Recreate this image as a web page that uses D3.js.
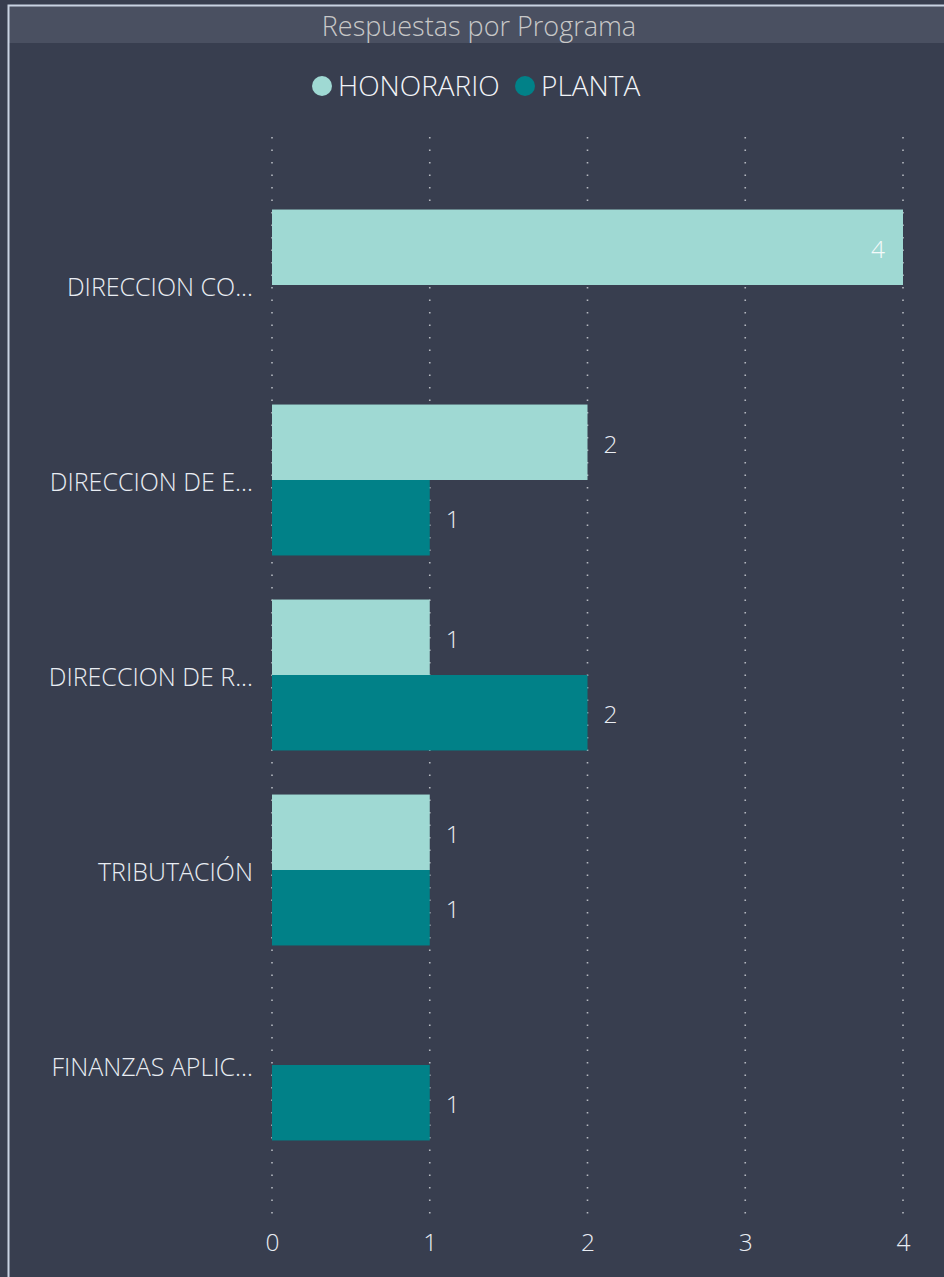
<!DOCTYPE html>
<html>
<head>
<meta charset="utf-8">
<script src="https://cdn.jsdelivr.net/npm/d3@7"></script>
<style>
  html, body { margin: 0; padding: 0; background: #383e4f; }
  svg { display: block; }
</style>
</head>
<body>
<script>
/* DATA */
var categories = ['DIRECCION CO...', 'DIRECCION DE E...', 'DIRECCION DE R...', 'TRIBUTACIÓN', 'FINANZAS APLIC...'];
var seriesNames = ['HONORARIO', 'PLANTA'];
var honorario = [4, 2, 1, 1, 0];
var planta = [0, 1, 2, 1, 1];
var xTicks = [0, 1, 2, 3, 4];

/* STYLE */
var width = 944;
var height = 1277;
var bgColor = '#383e4f';
var titleBand = '#4a5061';
var frameColor = '#c9d3e3';
var seriesColors = ['#9fd9d3', '#018188'];
var textColor = '#e9edf3';
var font = '"Segoe UI", "Open Sans", sans-serif';

var series = [honorario, planta];

var svg = d3.select('body').append('svg')
    .attr('width', width)
    .attr('height', height);

svg.append('rect')
    .attr('width', width).attr('height', height)
    .attr('fill', bgColor);

// title band + frame
svg.append('rect')
    .attr('x', 9).attr('y', 6)
    .attr('width', width).attr('height', 37)
    .attr('fill', titleBand);

svg.append('path')
    .attr('d', `M8.5,${height} V5.5 H${width}`)
    .attr('fill', 'none')
    .attr('stroke', frameColor)
    .attr('stroke-width', 2);

svg.append('text')
    .attr('x', 479).attr('y', 36)
    .attr('text-anchor', 'middle')
    .attr('fill', '#c8c8c8')
    .style('font', `300 27px ${font}`)
    .text('Respuestas por Programa');

// legend
var legend = svg.append('g');
var legendX = [322, 525];
seriesNames.forEach(function (name, i) {
    legend.append('circle')
        .attr('cx', legendX[i]).attr('cy', 86).attr('r', 10)
        .attr('fill', seriesColors[i]);
    legend.append('text')
        .attr('x', legendX[i] + 16).attr('y', 96)
        .attr('fill', '#f2f4f8')
        .style('font', `300 28px ${font}`)
        .text(name);
});

// scales
var x = d3.scaleLinear().domain([0, 4]).range([272, 903]);
var y = d3.scaleBand().domain(categories).range([187.5, 1162.5]).paddingInner(0.226).paddingOuter(0.113);
var ySub = d3.scaleBand().domain(seriesNames).range([0, y.bandwidth()]);

// gridlines
svg.append('g')
    .selectAll('line')
    .data(xTicks)
    .join('line')
    .attr('x1', d => x(d)).attr('x2', d => x(d))
    .attr('y1', 137).attr('y2', 1223)
    .attr('stroke', '#b5b8c0')
    .attr('stroke-width', 1.6)
    .attr('stroke-dasharray', '1.6,10.9')
    .attr('stroke-linecap', 'butt');

// x axis labels
var xAxis = d3.axisBottom(x).tickValues(xTicks).tickFormat(d3.format('d')).tickSize(0).tickPadding(0);
var gx = svg.append('g')
    .attr('transform', 'translate(0,1234)')
    .call(xAxis);
gx.select('.domain').remove();
gx.selectAll('text')
    .attr('fill', textColor)
    .style('font', `300 24.5px ${font}`);

// category labels
var yAxis = d3.axisLeft(y).tickSize(0).tickPadding(19);
var gy = svg.append('g')
    .attr('transform', 'translate(272,3)')
    .call(yAxis);
gy.select('.domain').remove();
gy.selectAll('text')
    .attr('fill', textColor)
    .style('font', `300 25px ${font}`);

// bars
var groups = svg.append('g')
    .selectAll('g')
    .data(categories)
    .join('g')
    .attr('transform', d => `translate(0,${y(d)})`);

groups.each(function (cat, ci) {
    var g = d3.select(this);
    seriesNames.forEach(function (name, si) {
        var v = series[si][ci];
        if (!v) return;
        g.append('rect')
            .attr('x', x(0))
            .attr('y', ySub(name))
            .attr('width', x(v) - x(0))
            .attr('height', ySub.bandwidth())
            .attr('fill', seriesColors[si]);
        var inside = x(v) > 860;
        g.append('text')
            .attr('x', inside ? x(v) - 18 : x(v) + 16)
            .attr('y', ySub(name) + ySub.bandwidth() / 2 + 1)
            .attr('text-anchor', inside ? 'end' : 'start')
            .attr('dominant-baseline', 'central')
            .attr('fill', inside ? '#f4fafa' : textColor)
            .style('font', `300 24.5px ${font}`)
            .text(v);
    });
});
</script>
</body>
</html>
